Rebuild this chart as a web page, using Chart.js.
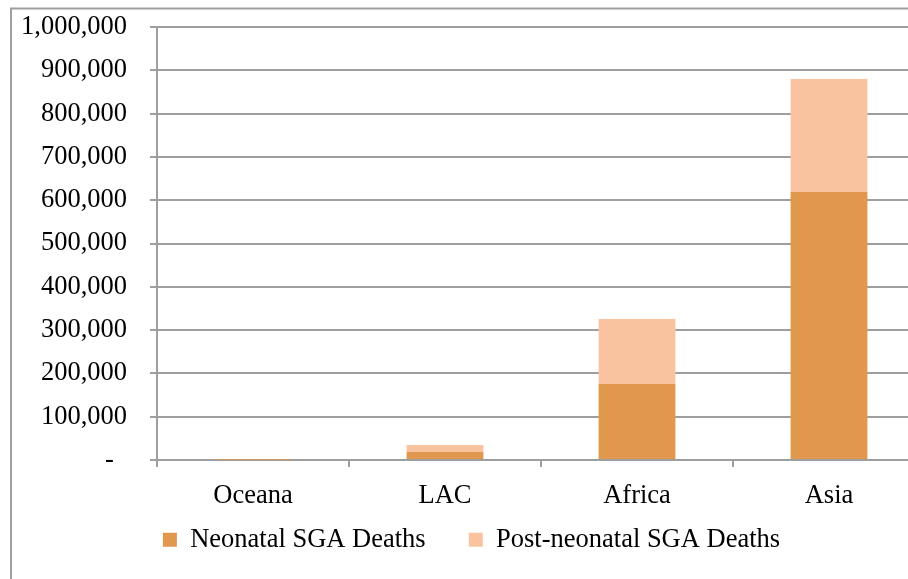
<!DOCTYPE html>
<html>
<head>
<meta charset="utf-8">
<script src="https://cdn.jsdelivr.net/npm/chart.js@4/dist/chart.umd.min.js"></script>
<style>
  html, body { margin: 0; padding: 0; background: #fff; overflow: hidden; }
  #wrap { position: absolute; left: 0; top: 0; width: 926px; height: 579px; }
</style>
</head>
<body>
<div id="wrap"><canvas id="c" width="926" height="579"></canvas></div>
<script>
// Regions and SGA deaths per region
const regions = ['Oceana', 'LAC', 'Africa', 'Asia'];
const neonatalDeaths = [500, 18500, 175500, 619000];
const postNeonatalDeaths = [300, 16000, 150000, 261000];
const yTicks = { min: 0, max: 1000000, step: 100000 };

const serif = "'Liberation Serif', 'Times New Roman', serif";
const fontSize = 26.5;
const gridGrey = '#9e9e9e';

// Grey frame around the whole chart
const framePlugin = {
  id: 'frame',
  beforeDraw(chart) {
    const ctx = chart.ctx;
    ctx.save();
    ctx.fillStyle = '#fff';
    ctx.fillRect(0, 0, chart.width, chart.height);
    ctx.strokeStyle = gridGrey;
    ctx.lineWidth = 2;
    ctx.strokeRect(11, 8.5, chart.width + 20, chart.height + 20);
    ctx.restore();
  }
};

new Chart(document.getElementById('c'), {
  type: 'bar',
  data: {
    labels: regions,
    datasets: [
      { label: 'Neonatal SGA Deaths', data: neonatalDeaths, backgroundColor: 'rgb(226,151,78)' },
      { label: 'Post-neonatal SGA Deaths', data: postNeonatalDeaths, backgroundColor: 'rgb(250,195,160)' }
    ]
  },
  options: {
    responsive: false,
    animation: false,
    layout: { padding: { left: 18, top: 27, right: 1, bottom: 16 } },
    datasets: { bar: { categoryPercentage: 1, barPercentage: 0.4 } },
    plugins: {
      tooltip: { enabled: false },
      legend: {
        position: 'bottom',
        labels: {
          font: { family: serif, size: fontSize },
          color: '#000',
          boxWidth: 14,
          boxHeight: 14,
          padding: 10,
          // wider spacing between the two legend entries
          generateLabels(chart) {
            const items = Chart.defaults.plugins.legend.labels.generateLabels(chart);
            items.forEach((it, i) => { if (i < items.length - 1) it.text += '     '; });
            return items;
          }
        }
      }
    },
    scales: {
      x: {
        stacked: true,
        grid: { drawOnChartArea: false, color: gridGrey, lineWidth: 2, tickLength: 7 },
        border: { color: gridGrey, width: 2 },
        ticks: { font: { family: serif, size: fontSize }, color: '#000', padding: 13 },
        afterFit(scale) { scale.height = 56.5; }
      },
      y: {
        stacked: true,
        min: yTicks.min,
        max: yTicks.max,
        grid: { color: gridGrey, lineWidth: 2, tickLength: 7 },
        border: { color: gridGrey, width: 2 },
        ticks: {
          stepSize: yTicks.step,
          font: { family: serif, size: fontSize },
          color: '#000',
          padding: 23,
          callback: v => v === 0 ? '-  ' : v.toLocaleString('en-US')
        },
        afterFit(scale) {
          scale.width = 139;
          scale.paddingTop = 0;
          scale.paddingBottom = 0;
        }
      }
    }
  },
  plugins: [framePlugin]
});
</script>
</body>
</html>
